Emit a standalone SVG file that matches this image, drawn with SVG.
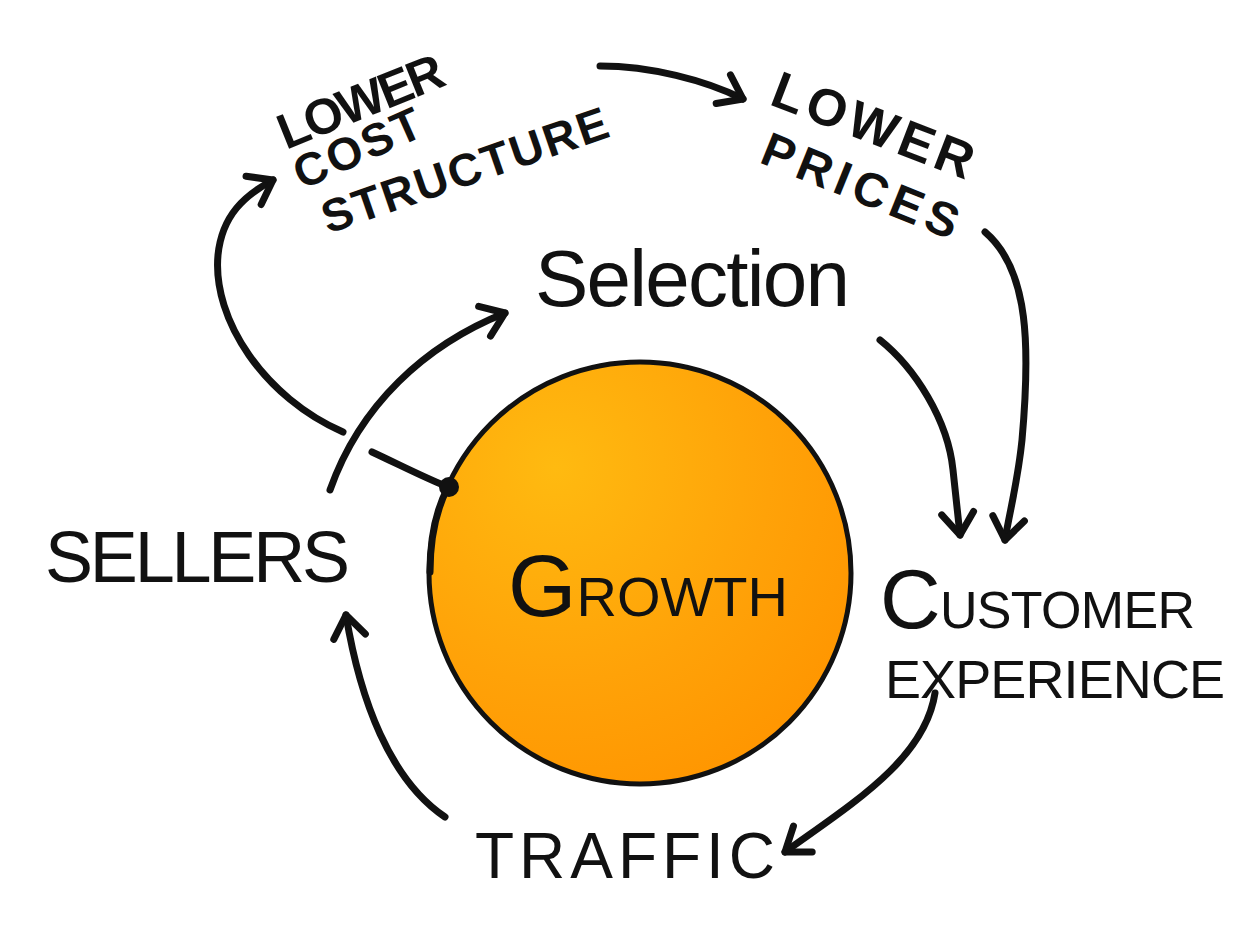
<svg xmlns="http://www.w3.org/2000/svg" width="1260" height="938" viewBox="0 0 1260 938">
<defs>
<style>
.lbl{font-family:"Liberation Sans","DejaVu Sans",sans-serif;fill:#111;}
.conn{fill:none;stroke:#111;stroke-width:7;stroke-linecap:round;stroke-linejoin:round;}
</style>
<radialGradient id="orange" cx="0.3" cy="0.25" r="0.85">
<stop offset="0" stop-color="#FFBA10"/>
<stop offset="0.6" stop-color="#FFA208"/>
<stop offset="1" stop-color="#FF9500"/>
</radialGradient>
<marker id="arr" markerUnits="userSpaceOnUse" markerWidth="60" markerHeight="60" refX="0" refY="0" viewBox="-30 -30 60 60" orient="auto" overflow="visible">
<path d="M-22,-16 L0,0 L-22,16" fill="none" stroke="#111" stroke-width="7" stroke-linecap="round" stroke-linejoin="round"/>
</marker>
</defs>
<rect width="1260" height="938" fill="#fff"/>

<g id="growth">
<circle cx="640" cy="573" r="211" fill="url(#orange)" stroke="#111" stroke-width="5"/>
<path d="M448,487 C436,510 430,540 430,572" fill="none" stroke="#111" stroke-width="7" stroke-linecap="round"/>
<text class="lbl" x="508" y="616" font-size="88">G<tspan font-size="56">ROWTH</tspan></text>
</g>

<g id="connectors">
<path class="conn" d="M330,490 C360,405 425,345 505,313" marker-end="url(#arr)"/>
<path class="conn" d="M343,432 C265,398 212,320 218,255 C222,215 245,195 273,180" marker-end="url(#arr)"/>
<path class="conn" d="M372,452 C400,465 425,478 448,487"/>
<circle cx="449" cy="487" r="10" fill="#111"/>
<path class="conn" d="M600,66 C650,66 705,80 743,99" marker-end="url(#arr)"/>
<path class="conn" d="M985,232 C1030,270 1030,350 1022,440 C1018,480 1010,510 1005,540" marker-end="url(#arr)"/>
<path class="conn" d="M880,340 C915,368 948,420 953,470 L960,535" marker-end="url(#arr)"/>
<path class="conn" d="M935,693 C925,760 850,805 785,852" marker-end="url(#arr)"/>
<path class="conn" d="M445,817 C390,780 360,700 346,615" marker-end="url(#arr)"/>
</g>

<g id="lower-cost-structure">
<text class="lbl" font-size="50" font-weight="bold" textLength="175" transform="translate(286,150) rotate(-22)">LOWER</text>
<text class="lbl" font-size="46" font-weight="bold" textLength="135" transform="translate(302,190) rotate(-24)">COST</text>
<text class="lbl" font-size="46" font-weight="bold" textLength="300" transform="translate(328,234) rotate(-19)">STRUCTURE</text>
</g>

<g id="lower-prices">
<text class="lbl" font-size="52" font-weight="bold" textLength="212" transform="translate(768,104) rotate(21)">LOWER</text>
<text class="lbl" font-size="48" font-weight="bold" textLength="208" transform="translate(758,162) rotate(22)">PRICES</text>
</g>

<g id="selection">
<text class="lbl" x="535" y="306" font-size="80" textLength="315">Selection</text>
</g>

<g id="sellers">
<text class="lbl" x="45" y="582" font-size="72" textLength="305">SELLERS</text>
</g>

<g id="customer-experience">
<text class="lbl" x="880" y="628" font-size="52" textLength="315"><tspan font-size="84">C</tspan>USTOMER</text>
<text class="lbl" x="885" y="698" font-size="54" textLength="340">EXPERIENCE</text>
</g>

<g id="traffic">
<text class="lbl" x="475" y="878" font-size="64" textLength="300">TRAFFIC</text>
</g>
</svg>
